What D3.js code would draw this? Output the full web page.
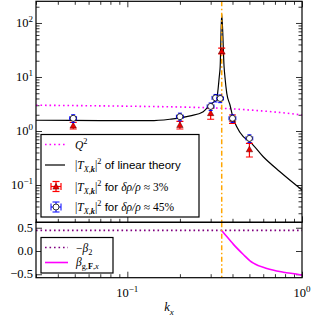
<!DOCTYPE html>
<html>
<head>
<meta charset="utf-8">
<script src="https://cdn.jsdelivr.net/npm/d3@7"></script>
<style>
body{margin:0;background:#fff;}
svg text{font-family:"Liberation Serif","DejaVu Serif",serif;fill:#000;}
</style>
</head>
<body>
<svg id="chart" width="312" height="318"></svg>
<script>
// values
const linK = [0.03, 0.07, 0.135, 0.175, 0.229, 0.272, 0.297, 0.325, 0.336, 0.340, 0.347, 0.358, 0.362, 0.371, 0.387, 0.404, 0.423, 0.461, 0.504, 0.60, 0.748, 1.0];
const linT = [1.58, 1.56, 1.55, 1.65, 1.90, 2.28, 3.03, 4.03, 10.1, 15.5, 150, 15.5, 10.1, 4.99, 3.03, 1.72, 1.20, 0.784, 0.63, 0.334, 0.176, 0.081];

const qK = [0.03, 0.1, 0.2, 0.35, 0.5, 0.75, 1.0];
const qV = [3.0, 2.88, 2.78, 2.63, 2.45, 2.2, 1.98];

const redK = [0.049, 0.2, 0.3, 0.347, 0.4, 0.5];
const redV = [1.27, 1.30, 2.15, 30.4, 1.68, 0.46];
const redE = [0.18, 0.21, 0.5, 3.7, 0.3, 0.13];

const blueK = [0.049, 0.2, 0.3, 0.32, 0.34, 0.4, 0.5];
const blueV = [1.72, 1.84, 2.85, 4.1, 4.0, 1.72, 0.73];
const blueE = [0.28, 0.3, 0.45, 0.65, 0.65, 0.28, 0.12];
const blueXE = [0.0022, 0.009, 0.0135, 0.0145, 0.015, 0.018, 0.0225];

const kRes = 0.347;     // dash-dot vertical line
const negBeta2 = 0.443; // -beta_2, constant
const betaK = [0.347, 0.371, 0.405, 0.463, 0.504, 0.527, 0.629, 0.782, 0.974, 1.0];
const betaV = [0.443, 0.31, 0.143, -0.08, -0.21, -0.26, -0.375, -0.455, -0.51, -0.52];

const yTopMajor = [0.1, 1, 10, 100];
const yTopLabels = ["\u22121", "0", "1", "2"];
const yBotTicks = [-0.5, 0, 0.5];
const yBotLabels = ["\u22120.5", "0.0", "0.5"];
const xMajor = [0.1, 1];
const xLabels = ["\u22121", "0"];

// layout
const L = 36, R = 302, T = 1.3, M = 222.3, B = 277.7;
const svg = d3.select("#chart");

const x = d3.scaleLog().domain([0.03, 1]).range([L, R]);
const yT = d3.scaleLog().domain([0.0204, 252]).range([M, T]);
const yB = d3.scaleLinear().domain([-0.574, 0.617]).range([B, M]);

const defs = svg.append("defs");
defs.append("clipPath").attr("id", "cTop").append("rect").attr("x", L).attr("y", T).attr("width", R - L).attr("height", M - T);
defs.append("clipPath").attr("id", "cBot").append("rect").attr("x", L).attr("y", M).attr("width", R - L).attr("height", B - M);

// minor tick values
const xMinor = [];
[0.01, 0.1].forEach(d => { for (let i = 2; i <= 9; i++) { const v = d * i; if (v >= 0.03 && v <= 1) xMinor.push(v); } });
const yMinor = [];
[0.01, 0.1, 1, 10, 100].forEach(d => { for (let i = 2; i <= 9; i++) { const v = d * i; if (v >= 0.0204 && v <= 252) yMinor.push(v); } });

function ticks(axisFn, scale, vals, size, tx, ty) {
  const g = svg.append("g").attr("transform", `translate(${tx},${ty})`)
    .call(axisFn(scale).tickValues(vals).tickSize(-size).tickFormat(""));
  g.select(".domain").remove();
  g.selectAll("line").attr("stroke", "#000").attr("stroke-width", 0.8);
}

// top panel ticks
ticks(d3.axisLeft, yT, yTopMajor, 6, L, 0);
ticks(d3.axisLeft, yT, yMinor, 3.5, L, 0);
ticks(d3.axisRight, yT, yTopMajor, 6, R, 0);
ticks(d3.axisRight, yT, yMinor, 3.5, R, 0);
ticks(d3.axisTop, x, xMajor, 6, 0, T);
ticks(d3.axisTop, x, xMinor, 3.5, 0, T);
ticks(d3.axisBottom, x, xMajor, 6, 0, M);
ticks(d3.axisBottom, x, xMinor, 3.5, 0, M);
// bottom panel ticks
ticks(d3.axisLeft, yB, yBotTicks, 6, L, 0);
ticks(d3.axisRight, yB, yBotTicks, 6, R, 0);
ticks(d3.axisBottom, x, xMajor, 6, 0, B);
ticks(d3.axisBottom, x, xMinor, 3.5, 0, B);

// top panel data
const topG = svg.append("g").attr("clip-path", "url(#cTop)");
const line = d3.line().curve(d3.curveMonotoneX);

topG.append("path")
  .attr("d", line(qK.map((k, i) => [x(k), yT(qV[i])])))
  .attr("fill", "none").attr("stroke", "#ff00ff").attr("stroke-width", 1.6).attr("stroke-dasharray", "1.6,2.9");

topG.append("path")
  .attr("d", line(linK.map((k, i) => [x(k), yT(linT[i])])))
  .attr("fill", "none").attr("stroke", "#000").attr("stroke-width", 1.2);

topG.append("line").attr("x1", x(kRes)).attr("x2", x(kRes)).attr("y1", T).attr("y2", M)
  .attr("stroke", "#ffa500").attr("stroke-width", 1.5).attr("stroke-dasharray", "5,2.5,1.5,2.5");

// red points: error bars then triangles
redK.forEach((k, i) => {
  const cx = x(k), y1 = yT(redV[i] + redE[i]), y2 = yT(redV[i] - redE[i]);
  const g = topG.append("g").attr("stroke", "#ff0000").attr("stroke-width", 1.2);
  g.append("line").attr("x1", cx).attr("x2", cx).attr("y1", y1).attr("y2", y2);
  g.append("line").attr("x1", cx - 3.5).attr("x2", cx + 3.5).attr("y1", y1).attr("y2", y1);
  g.append("line").attr("x1", cx - 3.5).attr("x2", cx + 3.5).attr("y1", y2).attr("y2", y2);
  const cy = yT(redV[i]);
  topG.append("path").attr("d", `M${cx},${cy - 3}L${cx + 3.2},${cy + 2.6}L${cx - 3.2},${cy + 2.6}Z`)
    .attr("fill", "#ee0000").attr("stroke", "#550000").attr("stroke-width", 0.5);
});

// blue points: error bars then open circles
blueK.forEach((k, i) => {
  const cx = x(k), cy = yT(blueV[i]);
  const y1 = yT(blueV[i] + blueE[i]), y2 = yT(blueV[i] - blueE[i]);
  const x1 = x(k - blueXE[i]), x2 = x(k + blueXE[i]);
  const g = topG.append("g").attr("stroke", "#0000ff").attr("stroke-width", 1);
  g.append("line").attr("x1", cx).attr("x2", cx).attr("y1", y1).attr("y2", y2);
  g.append("line").attr("x1", cx - 2).attr("x2", cx + 2).attr("y1", y1).attr("y2", y1);
  g.append("line").attr("x1", cx - 2).attr("x2", cx + 2).attr("y1", y2).attr("y2", y2);
  g.append("line").attr("x1", x1).attr("x2", x2).attr("y1", cy).attr("y2", cy);
  g.append("line").attr("x1", x1).attr("x2", x1).attr("y1", cy - 2).attr("y2", cy + 2);
  g.append("line").attr("x1", x2).attr("x2", x2).attr("y1", cy - 2).attr("y2", cy + 2);
  topG.append("circle").attr("cx", cx).attr("cy", cy).attr("r", 3)
    .attr("fill", "#fff").attr("stroke", "#000").attr("stroke-width", 0.8);
});

// bottom panel data
const botG = svg.append("g").attr("clip-path", "url(#cBot)");
botG.append("line").attr("x1", L).attr("x2", R).attr("y1", yB(negBeta2)).attr("y2", yB(negBeta2))
  .attr("stroke", "#800080").attr("stroke-width", 1.6).attr("stroke-dasharray", "1.6,2.9");
botG.append("path")
  .attr("d", line(betaK.map((k, i) => [x(k), yB(betaV[i])])))
  .attr("fill", "none").attr("stroke", "#ff00ff").attr("stroke-width", 1.6);
botG.append("line").attr("x1", x(kRes)).attr("x2", x(kRes)).attr("y1", M).attr("y2", B)
  .attr("stroke", "#ffa500").attr("stroke-width", 1.5).attr("stroke-dasharray", "5,2.5,1.5,2.5");

// frames
[[T, M], [M, B]].forEach(([a, b]) => {
  svg.append("rect").attr("x", L).attr("y", a).attr("width", R - L).attr("height", b - a)
    .attr("fill", "none").attr("stroke", "#000").attr("stroke-width", 1.2);
});

// rich text helper: parts = [text, style] with style words i, b, sub, sup, sans
function rich(parent, px, py, parts, size, anchor) {
  const t = parent.append("text").attr("x", px).attr("y", py).attr("font-size", size)
    .attr("text-anchor", anchor || "start");
  let off = 0;
  parts.forEach(([s, st]) => {
    const w = (st || "").split(" ");
    const sp = t.append("tspan").text(s);
    let want = 0;
    if (w.includes("sub")) { want = size * 0.3; sp.attr("font-size", size * 0.72); }
    if (w.includes("sup")) { want = -size * 0.42; sp.attr("font-size", size * 0.72); }
    sp.attr("dy", want - off); off = want;
    if (w.includes("i")) sp.attr("font-style", "italic");
    if (w.includes("b")) sp.attr("font-weight", "bold");
    if (w.includes("sans")) sp.style("font-family", "'Liberation Sans', Arial, sans-serif");
  });
  return t;
}

// tick labels
yTopMajor.forEach((v, i) => rich(svg, 33, yT(v) + 4, [["10"], [yTopLabels[i], "sup"]], 12.5, "end"));
yBotTicks.forEach((v, i) => rich(svg, 33, yB(v) + 4, [[yBotLabels[i]]], 12.5, "end"));
xMajor.forEach((v, i) => rich(svg, x(v), 297, [["10"], [xLabels[i], "sup"]], 12.5, "middle"));
rich(svg, 169, 311, [["k", "i"], ["x", "i sub"]], 12.5, "middle");

// legend top
const TX = (tail) => [["|"], ["T", "i"], ["X,", "i sub"], ["k", "i b sub"], ["|"], ["2", "sup"]].concat(tail);
const lg = svg.append("g");
lg.append("rect").attr("x", 41).attr("y", 134.5).attr("width", 158).attr("height", 82.5)
  .attr("fill", "#fff").attr("stroke", "#000").attr("stroke-width", 1.2);
lg.append("line").attr("x1", 45).attr("x2", 65).attr("y1", 144.5).attr("y2", 144.5)
  .attr("stroke", "#ff00ff").attr("stroke-width", 1.6).attr("stroke-dasharray", "1.6,2.9");
rich(lg, 75, 148.5, [["Q", "i"], ["2", "sup"]], 11.5);
lg.append("line").attr("x1", 45).attr("x2", 65).attr("y1", 165).attr("y2", 165)
  .attr("stroke", "#000").attr("stroke-width", 1.2);
rich(lg, 75, 169, TX([[" of linear theory", "sans"]]), 11.5);
// red handle
{
  const cx = 56, cy = 186.5;
  const g = lg.append("g").attr("stroke", "#ff0000").attr("stroke-width", 1.2);
  g.append("line").attr("x1", cx).attr("x2", cx).attr("y1", cy - 5).attr("y2", cy + 5);
  g.append("line").attr("x1", cx - 5).attr("x2", cx + 5).attr("y1", cy).attr("y2", cy);
  g.append("line").attr("x1", cx - 3.5).attr("x2", cx + 3.5).attr("y1", cy - 5).attr("y2", cy - 5);
  g.append("line").attr("x1", cx - 3.5).attr("x2", cx + 3.5).attr("y1", cy + 5).attr("y2", cy + 5);
  g.append("line").attr("x1", cx - 5).attr("x2", cx - 5).attr("y1", cy - 3.5).attr("y2", cy + 3.5);
  g.append("line").attr("x1", cx + 5).attr("x2", cx + 5).attr("y1", cy - 3.5).attr("y2", cy + 3.5);
  lg.append("path").attr("d", `M${cx},${cy - 3}L${cx + 3.2},${cy + 2.6}L${cx - 3.2},${cy + 2.6}Z`)
    .attr("fill", "#ee0000").attr("stroke", "#550000").attr("stroke-width", 0.5);
}
rich(lg, 75, 190.5, TX([[" for ", "sans"], ["\u03B4\u03C1/\u03C1", "i"], [" \u2248 3%"]]), 11.5);
// blue handle
{
  const cx = 56, cy = 207;
  const g = lg.append("g").attr("stroke", "#0000ff").attr("stroke-width", 1);
  g.append("line").attr("x1", cx).attr("x2", cx).attr("y1", cy - 5).attr("y2", cy + 5);
  g.append("line").attr("x1", cx - 5).attr("x2", cx + 5).attr("y1", cy).attr("y2", cy);
  g.append("line").attr("x1", cx - 3.5).attr("x2", cx + 3.5).attr("y1", cy - 5).attr("y2", cy - 5);
  g.append("line").attr("x1", cx - 3.5).attr("x2", cx + 3.5).attr("y1", cy + 5).attr("y2", cy + 5);
  g.append("line").attr("x1", cx - 5).attr("x2", cx - 5).attr("y1", cy - 3.5).attr("y2", cy + 3.5);
  g.append("line").attr("x1", cx + 5).attr("x2", cx + 5).attr("y1", cy - 3.5).attr("y2", cy + 3.5);
  lg.append("circle").attr("cx", cx).attr("cy", cy).attr("r", 3)
    .attr("fill", "#fff").attr("stroke", "#000").attr("stroke-width", 0.8);
}
rich(lg, 75, 211, TX([[" for ", "sans"], ["\u03B4\u03C1/\u03C1", "i"], [" \u2248 45%"]]), 11.5);

// legend bottom
const lb = svg.append("g");
lb.append("rect").attr("x", 41).attr("y", 237.5).attr("width", 72).attr("height", 35.5)
  .attr("fill", "#fff").attr("stroke", "#000").attr("stroke-width", 1.2);
lb.append("line").attr("x1", 45).attr("x2", 68).attr("y1", 247.5).attr("y2", 247.5)
  .attr("stroke", "#800080").attr("stroke-width", 1.6).attr("stroke-dasharray", "1.6,2.9");
rich(lb, 76, 251.5, [["\u2212"], ["\u03B2", "i"], ["2", "sub"]], 11.5);
lb.append("line").attr("x1", 45).attr("x2", 68).attr("y1", 262.5).attr("y2", 262.5)
  .attr("stroke", "#ff00ff").attr("stroke-width", 1.6);
rich(lb, 76, 266, [["\u03B2", "i"], ["g,", "sub"], ["F", "b sub"], [",", "sub"], ["x", "i sub"]], 11.5);
</script>
</body>
</html>
